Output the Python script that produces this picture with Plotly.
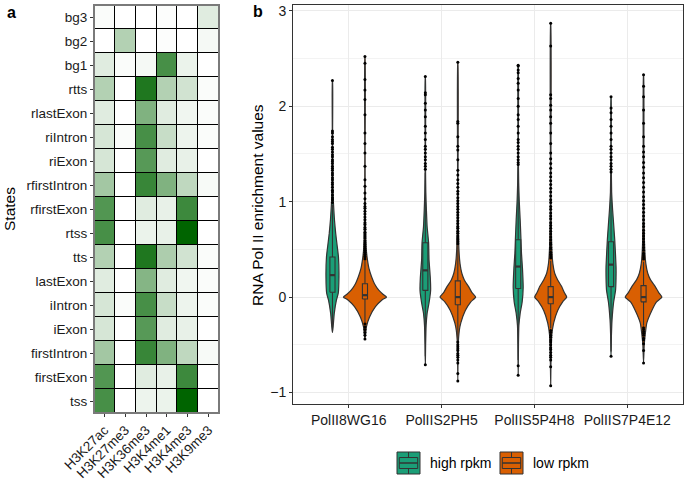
import plotly.graph_objects as go

W, H = 685, 483
FONT = "Liberation Sans, Arial, sans-serif"

# ---------------- panel a: heatmap data ----------------
states = ["bg3", "bg2", "bg1", "rtts", "rlastExon", "riIntron", "riExon", "rfirstIntron",
          "rfirstExon", "rtss", "tts", "lastExon", "iIntron", "iExon", "firstIntron",
          "firstExon", "tss"]
marks = ["H3K27ac", "H3K27me3", "H3K36me3", "H3K4me1", "H3K4me3", "H3K9me3"]
enrichment = [
    [0.02, 0.00, 0.00, 0.01, 0.00, 0.12],
    [0.00, 0.30, 0.00, 0.01, 0.00, 0.04],
    [0.12, 0.02, 0.04, 0.72, 0.08, 0.00],
    [0.30, 0.00, 0.88, 0.30, 0.18, 0.02],
    [0.12, 0.00, 0.50, 0.12, 0.06, 0.02],
    [0.16, 0.02, 0.72, 0.22, 0.07, 0.02],
    [0.16, 0.00, 0.66, 0.12, 0.09, 0.00],
    [0.36, 0.00, 0.78, 0.50, 0.25, 0.03],
    [0.68, 0.00, 0.12, 0.09, 0.76, 0.00],
    [0.72, 0.00, 0.08, 0.09, 1.00, 0.00],
    [0.30, 0.00, 0.88, 0.32, 0.18, 0.02],
    [0.12, 0.00, 0.48, 0.12, 0.06, 0.02],
    [0.16, 0.02, 0.72, 0.22, 0.07, 0.02],
    [0.16, 0.00, 0.66, 0.12, 0.09, 0.00],
    [0.36, 0.00, 0.78, 0.50, 0.25, 0.03],
    [0.68, 0.00, 0.12, 0.09, 0.76, 0.00],
    [0.72, 0.00, 0.07, 0.08, 1.00, 0.00],
]

# ---------------- panel b: violin / box data ----------------
antibodies = ["PolII8WG16", "PolIIS2PH5", "PolIIS5P4H8", "PolIIS7P4E12"]
groups = ["high rpkm", "low rpkm"]

high_q1 = [0.05, 0.07, 0.09, 0.11]
high_med = [0.23, 0.28, 0.32, 0.34]
high_q3 = [0.42, 0.57, 0.60, 0.58]
high_lo = [-0.37, -0.62, -0.66, -0.57]
high_hi = [0.97, 1.30, 1.36, 1.28]

low_q1 = [-0.02, -0.08, -0.07, -0.05]
low_med = [0.02, 0.00, 0.00, 0.00]
low_q3 = [0.14, 0.17, 0.11, 0.12]
low_lo = [-0.26, -0.45, -0.33, -0.30]
low_hi = [0.38, 0.54, 0.38, 0.37]

# density profiles (value, relative density)
high_dens_y = [
    [-0.37, -0.31, -0.17, -0.03, 0.04, 0.21, 0.42, 0.53, 0.67, 0.81, 1.0, 1.2, 1.75, 2.27],
    [-0.71, -0.5, -0.3, -0.17, -0.06, 0.07, 0.2, 0.39, 0.57, 0.74, 0.91, 1.1, 1.4, 2.31],
    [-0.82, -0.5, -0.3, -0.17, -0.05, 0.1, 0.3, 0.46, 0.6, 0.81, 1.0, 1.2, 1.5, 2.43],
    [-0.62, -0.4, -0.24, -0.06, 0.07, 0.2, 0.32, 0.6, 0.91, 1.1, 1.5, 2.10],
]
high_dens = [
    [0, 0.7, 1.8, 4.0, 5.8, 6.5, 6.0, 4.8, 3.2, 2.0, 0.9, 0.35, 0.15, 0.1],
    [0, 0.3, 0.8, 1.8, 3.7, 5.3, 5.0, 3.7, 3.3, 1.8, 1.1, 0.5, 0.15, 0.1],
    [0, 0.3, 0.7, 2.0, 4.0, 5.0, 4.3, 3.3, 2.8, 2.0, 1.1, 0.5, 0.15, 0.1],
    [0, 0.4, 1.0, 2.5, 4.5, 5.0, 5.0, 3.7, 1.6, 0.6, 0.15, 0.1],
]
low_dens_y = [
    [-0.44, -0.31, -0.21, -0.10, -0.03, 0.0, 0.03, 0.07, 0.14, 0.21, 0.30, 0.39, 0.5, 0.7, 1.0, 1.5, 2.52],
    [-0.88, -0.5, -0.35, -0.27, -0.14, -0.05, 0.0, 0.05, 0.11, 0.18, 0.25, 0.35, 0.5, 0.8, 1.2, 2.46],
    [-0.93, -0.6, -0.4, -0.27, -0.14, -0.05, 0.0, 0.05, 0.11, 0.18, 0.25, 0.35, 0.5, 0.8, 1.2, 2.87],
    [-0.69, -0.5, -0.38, -0.27, -0.14, -0.05, 0.0, 0.05, 0.11, 0.18, 0.25, 0.35, 0.5, 0.8, 1.2, 2.33],
]
low_dens = [
    [0, 1.5, 4.5, 10.5, 17, 21.5, 18, 14, 9.5, 6.7, 4, 2.5, 1.3, 0.6, 0.3, 0.15, 0.1],
    [0, 0.4, 1.5, 3, 7.5, 13, 17.8, 14, 10.8, 6.5, 4, 2.2, 1.1, 0.5, 0.2, 0.1],
    [0, 0.4, 1.1, 3, 7, 12, 16, 13.5, 11, 7, 4, 2.2, 1.2, 0.5, 0.2, 0.1],
    [0, 0.7, 1.8, 3.3, 8.3, 13, 18.3, 15, 11.7, 7, 4.2, 2.3, 1.2, 0.5, 0.2, 0.1],
]

high_outliers = [
    [2.27, 1.74, 1.72, 1.68, 1.65, 1.63, 1.61, 1.57, 1.55, 1.52, 1.49, 1.47, 1.44, 1.42, 1.40,
     1.37, 1.35, 1.33, 1.30, 1.28, 1.25, 1.23, 1.20, 1.18, 1.15, 1.12, 1.10, 1.07, 1.04, 1.02, 0.99],
    [2.31, 2.14, 2.12, 2.03, 1.96, 1.89, 1.79, 1.72, 1.65, 1.58, 1.55, 1.51, 1.47, 1.44, 1.40,
     1.37, 1.34, -0.71],
    [2.43, 2.42, 2.38, 2.35, 2.29, 2.24, 2.17, 2.08, 2.00, 1.91, 1.86, 1.79, 1.72, 1.65, 1.62,
     1.58, 1.55, 1.51, 1.47, 1.44, 1.41, 1.39, -0.72, -0.82],
    [2.10, 1.98, 1.93, 1.86, 1.79, 1.72, 1.65, 1.58, 1.55, 1.51, 1.47, 1.44, 1.40, 1.37, 1.34,
     1.31, -0.62],
]
low_outliers = [
    [2.52, 2.45, 2.28, 2.17, 2.07, 1.91, 1.72, 1.61, 1.51, 1.37, 1.23, 1.16, 1.09, 1.03, 0.98,
     0.95, 0.93, 0.90, 0.87, 0.84, 0.81, 0.78, 0.76, 0.73, 0.71, 0.68, 0.66, 0.64, 0.62, 0.59,
     0.57, 0.55, 0.53, 0.51, 0.49, 0.47, 0.45, 0.43, 0.42, 0.40,
     -0.28, -0.31, -0.34, -0.37, -0.40, -0.44],
    [2.46, 1.84, 1.82, 1.68, 1.58, 1.54, 1.44, 1.33, 1.28, 1.23, 1.19, 1.15, 1.11, 1.08, 1.04,
     1.01, 0.98, 0.95, 0.92, 0.89, 0.86, 0.83, 0.80, 0.77, 0.74, 0.72, 0.69, 0.67, 0.64, 0.62,
     0.60, 0.58, 0.56, -0.47, -0.50, -0.52, -0.54, -0.56, -0.59, -0.61, -0.63, -0.66, -0.69,
     -0.80, -0.88],
    [2.87, 2.63, 2.12, 2.08, 2.01, 1.96, 1.89, 1.82, 1.72, 1.61, 1.51, 1.45, 1.40, 1.35, 1.30,
     1.26, 1.22, 1.18, 1.14, 1.10, 1.06, 1.02, 0.99, 0.95, 0.92, 0.88, 0.85, 0.82, 0.78, 0.75,
     0.72, 0.69, 0.66, 0.63, 0.60, 0.57, 0.55, 0.52, 0.50, 0.47, 0.45, 0.43, 0.41,
     -0.35, -0.37, -0.40, -0.42, -0.45, -0.47, -0.50, -0.53, -0.55, -0.58, -0.61, -0.63, -0.66,
     -0.73, -0.93],
    [2.33, 2.21, 2.10, 1.96, 1.82, 1.68, 1.58, 1.52, 1.47, 1.41, 1.36, 1.30, 1.25, 1.20, 1.15,
     1.10, 1.05, 1.01, 0.97, 0.93, 0.89, 0.85, 0.81, 0.77, 0.74, 0.70, 0.67, 0.64, 0.61, 0.58,
     0.55, 0.52, 0.49, 0.46, 0.44, 0.42, 0.40,
     -0.32, -0.34, -0.36, -0.38, -0.40, -0.43, -0.45, -0.49, -0.56, -0.69],
]

# ---------------- styling ----------------
GREEN = "#1B9E77"
ORANGE = "#D95F02"
OUTLINE = "#333333"
DODGE = 0.175
DENS_SCALE = 1 / 92.86   # density units -> x units
BOX_W = 0.055


def px_x(px):
    return px / W


def px_y(py):
    return 1 - py / H


fig = go.Figure()

# heatmap
fig.add_trace(go.Heatmap(
    z=enrichment, x=marks, y=states,
    colorscale=[[0, "#ffffff"], [1, "#006400"]], zmin=0, zmax=1,
    xgap=1, ygap=1, showscale=False, xaxis="x", yaxis="y", hoverinfo="skip"))

# violins, boxes and outliers (all as scatter traces so the drawing order is kept)
series = [
    (groups[0], GREEN, -DODGE, high_dens_y, high_dens, high_q1, high_med, high_q3, high_lo, high_hi, high_outliers),
    (groups[1], ORANGE, DODGE, low_dens_y, low_dens, low_q1, low_med, low_q3, low_lo, low_hi, low_outliers),
]
for name, color, off, dy, dd, q1, med, q3, lo, hi, outl in series:
    for i, ab in enumerate(antibodies):
        c = i + 1 + off
        ys = dy[i]
        ds = dd[i]
        xr = [c + d * DENS_SCALE for d in ds]
        xl = [c - d * DENS_SCALE for d in ds]
        # violin body
        fig.add_trace(go.Scatter(
            x=xr + xl[::-1], y=ys + ys[::-1], mode="lines", fill="toself",
            fillcolor=color, line=dict(color=OUTLINE, width=1.2, shape="spline", smoothing=0.5),
            xaxis="x2", yaxis="y2", showlegend=False, hoverinfo="skip"))
        # whiskers
        fig.add_trace(go.Scatter(
            x=[c, c, None, c, c], y=[q3[i], hi[i], None, q1[i], lo[i]], mode="lines",
            line=dict(color=OUTLINE, width=1.1),
            xaxis="x2", yaxis="y2", showlegend=False, hoverinfo="skip"))
        # box
        bl, br = c - BOX_W / 2, c + BOX_W / 2
        fig.add_trace(go.Scatter(
            x=[bl, br, br, bl, bl], y=[q1[i], q1[i], q3[i], q3[i], q1[i]], mode="lines",
            fill="toself", fillcolor=color, line=dict(color=OUTLINE, width=1.1),
            xaxis="x2", yaxis="y2", showlegend=False, hoverinfo="skip"))
        # median bar
        fig.add_trace(go.Scatter(
            x=[bl, br], y=[med[i], med[i]], mode="lines",
            line=dict(color=OUTLINE, width=2.2),
            xaxis="x2", yaxis="y2", showlegend=False, hoverinfo="skip"))
    for i, ab in enumerate(antibodies):
        c = i + 1 + off
        fig.add_trace(go.Scatter(
            x=[c] * len(outl[i]), y=outl[i], mode="markers",
            marker=dict(color="black", size=3),
            xaxis="x2", yaxis="y2", showlegend=False, hoverinfo="skip"))

shapes = []
# black cell borders for heatmap
shapes.append(dict(type="rect", xref="x", yref="y", x0=-0.5, x1=len(marks) - 0.5,
                   y0=-0.5, y1=len(states) - 0.5, fillcolor="black",
                   line=dict(width=0), layer="below"))
shapes.append(dict(type="rect", xref="x domain", yref="y domain", x0=0, x1=1, y0=0, y1=1,
                   line=dict(color="#7a7a7a", width=2), layer="above"))

# legend keys
def legend_key(x0, color):
    x1 = x0 + 23
    y0, y1 = 452, 474
    hgt = y1 - y0
    wid = x1 - x0
    cx = (x0 + x1) / 2
    out = []
    out.append(dict(type="rect", xref="paper", yref="paper",
                    x0=px_x(x0), x1=px_x(x1), y0=px_y(y1), y1=px_y(y0),
                    fillcolor=color, line=dict(color=OUTLINE, width=1)))
    out.append(dict(type="rect", xref="paper", yref="paper",
                    x0=px_x(x0 + 0.1 * wid), x1=px_x(x1 - 0.1 * wid),
                    y0=px_y(y0 + 0.75 * hgt), y1=px_y(y0 + 0.25 * hgt),
                    fillcolor=color, line=dict(color=OUTLINE, width=1)))
    out.append(dict(type="line", xref="paper", yref="paper",
                    x0=px_x(x0 + 0.1 * wid), x1=px_x(x1 - 0.1 * wid),
                    y0=px_y(y0 + 0.5 * hgt), y1=px_y(y0 + 0.5 * hgt),
                    line=dict(color=OUTLINE, width=1.5)))
    out.append(dict(type="line", xref="paper", yref="paper",
                    x0=px_x(cx), x1=px_x(cx), y0=px_y(y0), y1=px_y(y0 + 0.25 * hgt),
                    line=dict(color=OUTLINE, width=1)))
    out.append(dict(type="line", xref="paper", yref="paper",
                    x0=px_x(cx), x1=px_x(cx), y0=px_y(y0 + 0.75 * hgt), y1=px_y(y1),
                    line=dict(color=OUTLINE, width=1)))
    return out

shapes += legend_key(397, GREEN)
shapes += legend_key(500, ORANGE)


def label(text, x, y, size, xanchor="center", angle=0):
    return dict(text=text, x=px_x(x), y=px_y(y), xref="paper", yref="paper",
                xanchor=xanchor, yanchor="middle", textangle=angle, showarrow=False,
                font=dict(size=size, color="black", family=FONT))


annotations = [
    label("<b>a</b>", 11, 12, 16),
    label("<b>b</b>", 258, 11, 16),
    label("States", 9, 209, 15.5, angle=-90),
    label("RNA Pol II enrichment values", 258, 205, 15.5, angle=-90),
    label(groups[0], 428, 463, 14, xanchor="left"),
    label(groups[1], 531, 463, 14, xanchor="left"),
]

fig.update_layout(
    template="none",
    width=W, height=H,
    margin=dict(l=0, r=0, t=0, b=0, pad=0, autoexpand=False),
    paper_bgcolor="white", plot_bgcolor="white",
    font=dict(family=FONT, color="black"),
    showlegend=False,
    xaxis=dict(domain=[px_x(94), px_x(219)], anchor="y", range=[-0.5, 5.5], automargin=False,
               tickangle=-45, ticks="outside", ticklen=3, tickcolor=OUTLINE,
               showgrid=False, zeroline=False, showline=False,
               tickfont=dict(size=13.5, color="#1a1a1a")),
    yaxis=dict(domain=[px_y(413), px_y(5)], anchor="x", autorange="reversed", automargin=False,
               ticks="outside", ticklen=3, tickcolor=OUTLINE,
               showgrid=False, zeroline=False, showline=False,
               tickfont=dict(size=13.5, color="#1a1a1a")),
    xaxis2=dict(domain=[px_x(293), px_x(683)], anchor="y2", range=[0.4, 4.6], automargin=False,
                tickvals=[1, 2, 3, 4], ticktext=antibodies,
                ticks="outside", ticklen=3, tickcolor=OUTLINE,
                showline=True, mirror=True, linecolor=OUTLINE, linewidth=1,
                showgrid=True, gridcolor="#ebebeb", gridwidth=1.1, zeroline=False,
                tickfont=dict(size=14, color="#1a1a1a")),
    yaxis2=dict(domain=[px_y(404), px_y(5)], anchor="x2", range=[-1.12, 3.06], automargin=False,
                tickvals=[-1, 0, 1, 2, 3], ticks="outside", ticklen=3, tickcolor=OUTLINE,
                showline=True, mirror=True, linecolor=OUTLINE, linewidth=1,
                showgrid=True, gridcolor="#ebebeb", gridwidth=1.1, zeroline=False,
                minor=dict(dtick=0.5, tick0=0.5, showgrid=True, gridcolor="#f3f3f3", gridwidth=0.6),
                tickfont=dict(size=14, color="#1a1a1a")),
    shapes=shapes,
    annotations=annotations,
)

fig.write_html("out.html", config={"displayModeBar": False},
               post_script="document.body.style.margin='0';document.body.style.overflow='hidden';")
